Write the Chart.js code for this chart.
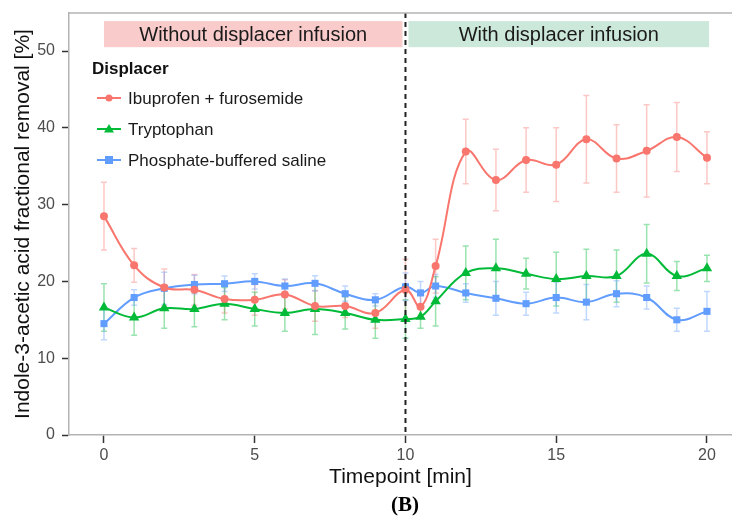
<!DOCTYPE html>
<html>
<head>
<meta charset="utf-8">
<script src="https://cdn.jsdelivr.net/npm/chart.js@4"></script>
<style>
  html, body { margin: 0; padding: 0; background: #fff; overflow: hidden; }
  #wrap { width: 732px; height: 519px; }
  canvas { display: block; }
</style>
</head>
<body>
<div id="wrap"><canvas id="myChart" width="732" height="519"></canvas></div>
<script>
// Timepoints (min)
const timepoints = [0, 1, 2, 3, 4, 5, 6, 7, 8, 9, 10, 10.5, 11, 12, 13, 14, 15, 16, 17, 18, 19, 20];

// Ibuprofen + furosemide
const ibuMean = [28.5, 22.1, 19.2, 18.9, 17.7, 17.6, 18.3, 16.8, 16.8, 15.9, 18.9, 16.7, 22.0, 36.9, 33.2, 35.8, 35.2, 38.5, 36.0, 37.0, 38.8, 36.1];
const ibuErr  = [4.4, 2.2, 2.4, 2.0, 1.8, 2.0, 1.9, 2.0, 1.5, 2.0, 4.0, 1.5, 3.5, 4.2, 4.0, 4.2, 4.8, 5.7, 4.4, 6.0, 4.5, 3.4];

// Tryptophan
const trpMean = [16.6, 15.3, 16.5, 16.4, 17.1, 16.4, 15.9, 16.4, 15.9, 15.0, 15.1, 15.4, 17.4, 21.1, 21.7, 21.0, 20.3, 20.7, 20.7, 23.6, 20.7, 21.7];
const trpErr  = [3.1, 2.3, 2.6, 2.3, 2.1, 2.2, 2.4, 3.3, 2.1, 2.4, 2.5, 1.5, 3.2, 3.5, 3.8, 2.0, 3.5, 3.5, 3.4, 3.8, 1.9, 1.7];

// Phosphate-buffered saline
const pbsMean = [14.5, 17.9, 19.1, 19.6, 19.7, 20.0, 19.4, 19.75, 18.4, 17.6, 19.3, 18.5, 19.4, 18.5, 17.8, 17.1, 17.9, 17.3, 18.4, 17.9, 15.0, 16.1];
const pbsErr  = [2.1, 1.0, 2.1, 1.2, 1.0, 1.0, 0.9, 1.0, 1.0, 0.8, 1.8, 1.5, 1.5, 1.2, 2.2, 1.5, 2.0, 2.3, 1.7, 1.5, 1.5, 2.6];

const seriesNames = ['Ibuprofen + furosemide', 'Tryptophan', 'Phosphate-buffered saline'];
const xTicks = [0, 5, 10, 15, 20];
const yTicks = [0, 10, 20, 30, 40, 50];

// phase bands
const phaseFrom = [0, 10.1];
const phaseTo = [9.9, 20.07];
const phaseLabels = ['Without displacer infusion', 'With displacer infusion'];
const infusionStart = 10;

const colors = ['#F8766D', '#00BA38', '#619CFF'];
const errColors = ['rgba(248,118,109,0.4)', 'rgba(0,186,56,0.4)', 'rgba(97,156,255,0.4)'];
const shapes = ['circle', 'triangle', 'rect'];
const FONT = '"Liberation Sans", Arial, sans-serif';

function toPoints(vals) {
    return timepoints.map((t, i) => ({ x: t, y: vals[i] }));
}
const errors = [ibuErr, trpErr, pbsErr];

// phase bands behind the data
const bandsPlugin = {
    id: 'bands',
    beforeDatasetsDraw(chart) {
        const { ctx, scales: { x, y } } = chart;
        const fills = ['#f9cbcb', '#cce8da'];
        ctx.save();
        for (let i = 0; i < phaseLabels.length; i++) {
            const x0 = x.getPixelForValue(phaseFrom[i]);
            const x1 = x.getPixelForValue(phaseTo[i]);
            const y0 = y.getPixelForValue(53.9);
            const y1 = y.getPixelForValue(50.5);
            ctx.fillStyle = fills[i];
            ctx.fillRect(x0, y0, x1 - x0, y1 - y0);
            ctx.fillStyle = '#1a1a1a';
            ctx.font = '20px ' + FONT;
            ctx.textAlign = 'center';
            ctx.textBaseline = 'middle';
            ctx.fillText(phaseLabels[i], (x0 + x1) / 2, (y0 + y1) / 2 + 1);
        }
        ctx.restore();
    }
};

// error bars under the lines
const errorBarPlugin = {
    id: 'errorBars',
    beforeDatasetsDraw(chart) {
        const { ctx, scales: { x, y } } = chart;
        ctx.save();
        ctx.lineWidth = 1.5;
        chart.data.datasets.forEach((ds, di) => {
            ctx.strokeStyle = errColors[di];
            ds.data.forEach((p, i) => {
                const px = x.getPixelForValue(p.x);
                const top = y.getPixelForValue(p.y + errors[di][i]);
                const bot = y.getPixelForValue(p.y - errors[di][i]);
                ctx.beginPath();
                ctx.moveTo(px, top); ctx.lineTo(px, bot);
                ctx.moveTo(px - 3, top); ctx.lineTo(px + 3, top);
                ctx.moveTo(px - 3, bot); ctx.lineTo(px + 3, bot);
                ctx.stroke();
            });
        });
        ctx.restore();
    }
};

// panel border, dashed infusion line, legend, caption
const overlayPlugin = {
    id: 'overlay',
    afterDatasetsDraw(chart) {
        const { ctx, chartArea: a, scales: { x } } = chart;
        ctx.save();
        // dashed line at infusion start
        const vx = x.getPixelForValue(infusionStart);
        ctx.strokeStyle = '#222';
        ctx.lineWidth = 2;
        ctx.setLineDash([5, 4]);
        ctx.beginPath();
        ctx.moveTo(vx, a.top); ctx.lineTo(vx, a.bottom);
        ctx.stroke();
        ctx.setLineDash([]);
        // top border (right side runs off the page)
        ctx.strokeStyle = '#b3b3b3';
        ctx.lineWidth = 1.5;
        ctx.beginPath();
        ctx.moveTo(a.left, a.top); ctx.lineTo(chart.width, a.top);
        ctx.stroke();

        // legend
        ctx.fillStyle = '#111';
        ctx.font = 'bold 17px ' + FONT;
        ctx.textAlign = 'left';
        ctx.textBaseline = 'middle';
        ctx.fillText('Displacer', 92, 69);
        const rowY = [98, 129, 160];
        ctx.font = '17px ' + FONT;
        seriesNames.forEach((name, i) => {
            const cy = rowY[i];
            ctx.strokeStyle = colors[i];
            ctx.lineWidth = 2;
            ctx.beginPath();
            ctx.moveTo(97, cy); ctx.lineTo(121, cy);
            ctx.stroke();
            ctx.fillStyle = colors[i];
            drawMarker(ctx, shapes[i], 109, cy);
            ctx.fillStyle = '#1a1a1a';
            ctx.fillText(name, 128, cy + 1);
        });

        // caption
        ctx.fillStyle = '#000';
        ctx.font = 'bold 21px "Liberation Serif", "Times New Roman", serif';
        ctx.textAlign = 'center';
        ctx.fillText('(B)', 405, 506);
        ctx.restore();
    }
};

function drawMarker(ctx, shape, cx, cy) {
    ctx.beginPath();
    if (shape === 'circle') {
        ctx.arc(cx, cy, 3.5, 0, Math.PI * 2);
    } else if (shape === 'triangle') {
        ctx.moveTo(cx, cy - 5); ctx.lineTo(cx + 5, cy + 3.5); ctx.lineTo(cx - 5, cy + 3.5);
        ctx.closePath();
    } else {
        ctx.rect(cx - 4, cy - 4, 8, 8);
    }
    ctx.fill();
}

function noPad(s) {
    s.paddingTop = 0; s.paddingBottom = 0; s.paddingLeft = 0; s.paddingRight = 0;
}

const allMeans = [ibuMean, trpMean, pbsMean];
const datasets = allMeans.map((vals, i) => ({
    label: seriesNames[i],
    data: toPoints(vals),
    borderColor: colors[i],
    backgroundColor: colors[i],
    borderWidth: 2,
    pointStyle: shapes[i],
    pointRadius: shapes[i] === 'circle' ? 4 : (shapes[i] === 'triangle' ? 6 : 5),
    pointBorderWidth: 0,
    tension: 0.4,
    clip: false,
    fill: false
}));

new Chart(document.getElementById('myChart'), {
    type: 'line',
    data: { datasets },
    options: {
        responsive: false,
        animation: false,
        devicePixelRatio: 1,
        layout: { autoPadding: false, padding: { left: 0, right: 0, top: 13, bottom: 0 } },
        plugins: {
            legend: { display: false },
            tooltip: { enabled: false }
        },
        scales: {
            x: {
                type: 'linear',
                min: -1.16,
                max: 20.83,
                afterBuildTicks: s => { s.ticks = xTicks.map(v => ({ value: v })); },
                afterFit: s => { s.height = 84; noPad(s); },
                ticks: { font: { family: FONT, size: 16 }, color: '#4d4d4d', padding: 3, maxRotation: 0 },
                grid: { drawOnChartArea: false, drawTicks: true, tickLength: 8, color: '#333', tickWidth: 1.5 },
                border: { display: true, color: '#b3b3b3', width: 1.5 },
                title: { display: true, text: 'Timepoint [min]', font: { family: FONT, size: 21 }, color: '#111', padding: { top: 0, bottom: 29 } }
            },
            y: {
                min: 0,
                max: 54.95,
                afterBuildTicks: s => { s.ticks = yTicks.map(v => ({ value: v })); },
                afterFit: s => { s.width = 69; noPad(s); },
                ticks: { font: { family: FONT, size: 16 }, color: '#4d4d4d', padding: 7 },
                grid: { drawOnChartArea: false, drawTicks: true, tickLength: 7, color: '#333', tickWidth: 1.5 },
                border: { display: true, color: '#b3b3b3', width: 1.5 },
                title: { display: true, text: 'Indole-3-acetic acid fractional removal [%]', font: { family: FONT, size: 21 }, color: '#111', padding: { top: 11, bottom: 0 } }
            }
        }
    },
    plugins: [bandsPlugin, errorBarPlugin, overlayPlugin]
});
</script>
</body>
</html>
